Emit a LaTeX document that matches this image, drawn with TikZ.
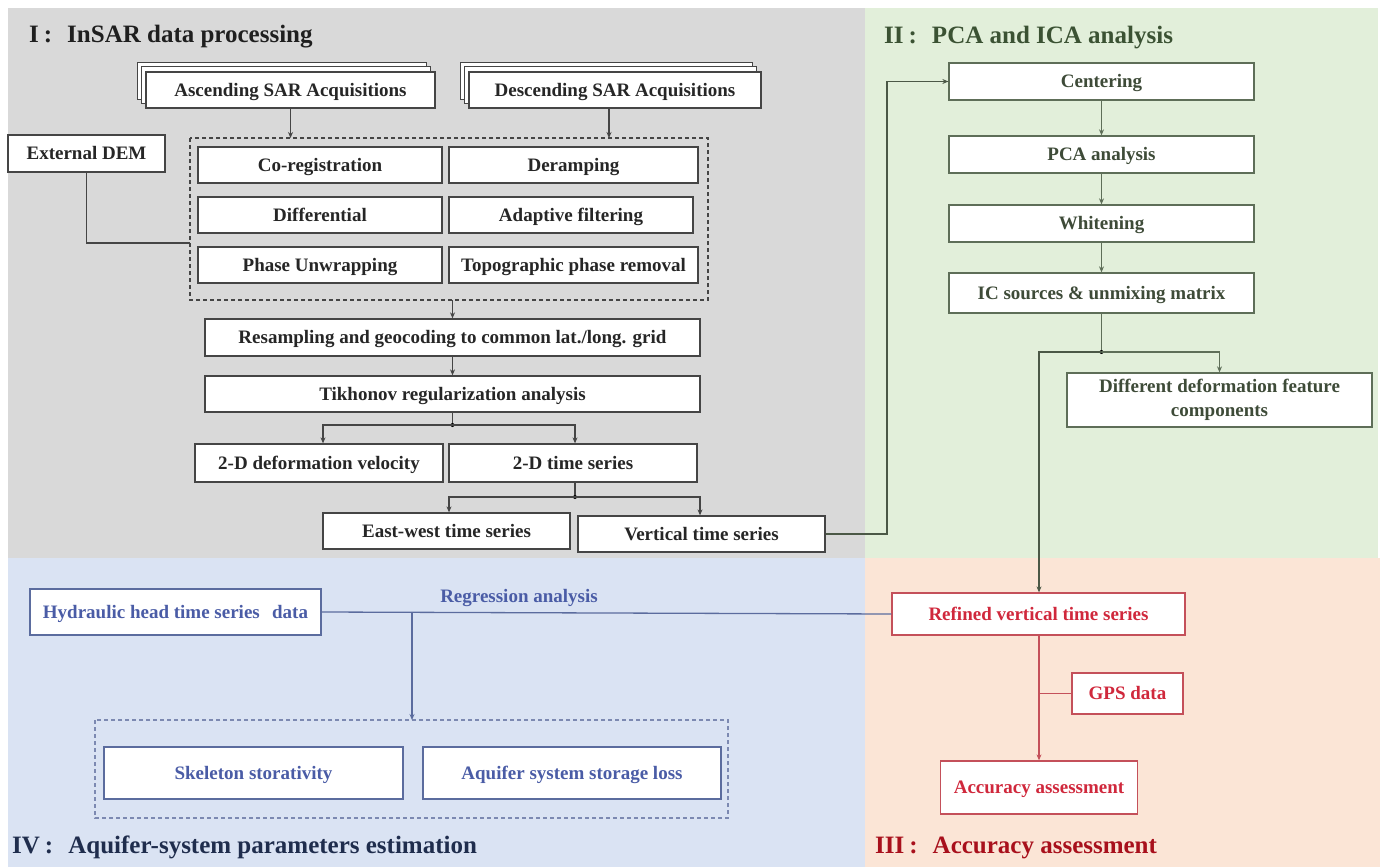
\documentclass[tikz,border=0pt]{standalone}
\usepackage{fontspec}
\setmainfont{Liberation Serif}[BoldFont={Liberation Serif Bold}]
\usetikzlibrary{arrows.meta}
\definecolor{pgray}{HTML}{D9D9D9}
\definecolor{pgreen}{HTML}{E2EFDA}
\definecolor{pblue}{HTML}{DAE3F3}
\definecolor{ppink}{HTML}{FBE5D6}
\definecolor{cI}{HTML}{262626}
\definecolor{bI}{HTML}{454545}
\definecolor{cII}{HTML}{3E4B38}
\definecolor{bII}{HTML}{5E6E58}
\definecolor{cIII}{HTML}{D0283C}
\definecolor{bIII}{HTML}{C4505A}
\definecolor{cIV}{HTML}{4A5CA6}
\definecolor{bIV}{HTML}{5B6C9E}
\definecolor{tI}{HTML}{1F1F1F}
\definecolor{tII}{HTML}{3B5233}
\definecolor{tIII}{HTML}{A8101C}
\definecolor{tIV}{HTML}{1F2D4D}
\tikzset{
  basebox/.style={draw, fill=white, line width=1.3pt, inner sep=0pt, align=center,
     text height=12.5pt, text depth=0pt,
     font=\fontsize{19}{22}\selectfont\bfseries},
  boxI/.style={basebox, draw=bI, text=cI},
  boxII/.style={basebox, draw=bII, text=cII},
  boxIII/.style={basebox, draw=bIII, text=cIII},
  boxIV/.style={basebox, draw=bIV, text=cIV},
  conn/.style={line width=1.3pt},
  arr/.style={conn, -{Stealth[length=6pt,width=5pt]}},
  dashbox/.style={line width=1.3pt, dash pattern=on 4pt off 3pt},
  sectitle/.style={anchor=west, inner sep=0pt, font=\fontsize{25}{28}\selectfont\bfseries},
  jdot/.style={circle, fill, inner sep=0pt, minimum size=4pt}
}
\newcommand{\tcolon}{\hspace{0.2em}:\hspace{0.6em}}
\begin{document}
\begin{tikzpicture}[x=1pt,y=-1pt]
\useasboundingbox (0,0) rectangle (1382,867);
\fill[white] (0,0) rectangle (1382,867);
% panels
\fill[pgray] (8,8) rectangle (865,558);
\fill[pgreen] (865,8) rectangle (1378,558);
\fill[pblue] (8,558) rectangle (865,867);
\fill[ppink] (865,558) rectangle (1380,867);

% titles
\node[sectitle, text=tI] (tI) at (29,37) {I\tcolon InSAR data processing};
\node[sectitle, text=tII] (tII) at (884,38) {II\tcolon PCA and ICA analysis};
\node[sectitle, text=tIV] (tIV) at (12,847) {IV\tcolon Aquifer-system parameters estimation};
\node[sectitle, text=tIII] (tIII) at (875,848) {III\tcolon Accuracy assessment};

% ---------- Section I ----------
% stacked acquisitions
\draw[line width=1pt, draw=bI, fill=white] (137,63) rectangle (426,99);
\draw[line width=1pt, draw=bI, fill=white] (141,67) rectangle (430,103);
\node[boxI, minimum width=289pt, minimum height=36pt] (asc) at (290.5,90) {Ascending SAR Acquisitions};
\draw[line width=1pt, draw=bI, fill=white] (460,63) rectangle (752,99);
\draw[line width=1pt, draw=bI, fill=white] (464,67) rectangle (756,103);
\node[boxI, minimum width=292pt, minimum height=36pt] (desc) at (615,90) {Descending SAR Acquisitions};

\draw[dashbox, draw=bI] (190,138) rectangle (708,300);
\coordinate (dtopA) at (290.5,138);
\coordinate (dtopD) at (609,138);
\coordinate (dbot) at (452.5,300);
\coordinate (dleft) at (190,243);

\node[boxI, minimum width=157pt, minimum height=37pt] (dem) at (86.5,153.5) {External DEM};
\node[boxI, minimum width=244pt, minimum height=36pt] (coreg) at (320,165) {Co-registration};
\node[boxI, minimum width=249pt, minimum height=36pt] (deramp) at (573.5,165) {Deramping};
\node[boxI, minimum width=244pt, minimum height=36pt] (diff) at (320,215) {Differential};
\node[boxI, minimum width=244pt, minimum height=36pt] (adapt) at (571,215) {Adaptive filtering};
\node[boxI, minimum width=244pt, minimum height=36pt] (phase) at (320,265) {Phase Unwrapping};
\node[boxI, minimum width=249pt, minimum height=36pt] (topo) at (573.5,265) {Topographic phase removal};

\node[boxI, minimum width=495pt, minimum height=37pt] (resamp) at (452.5,337.5) {Resampling and geocoding to common lat./long. grid};
\node[boxI, minimum width=495pt, minimum height=36pt] (tikh) at (452.5,394) {Tikhonov regularization analysis};
\node[boxI, minimum width=248pt, minimum height=38pt] (vel) at (319,463) {2-D deformation velocity};
\node[boxI, minimum width=248pt, minimum height=38pt] (ts2d) at (573,463) {2-D time series};
\node[boxI, minimum width=247pt, minimum height=36pt] (ew) at (446.5,531) {East-west time series};
\node[boxI, minimum width=247pt, minimum height=36pt] (vert) at (701.5,534) {Vertical time series};

\draw[arr, draw=bI] (asc.south) -- (dtopA);
\draw[arr, draw=bI] (desc.south -| dtopD) -- (dtopD);
\draw[conn, draw=bI] (dem.south) |- (dleft);
\draw[arr, draw=bI] (dbot) -- (resamp.north);
\draw[arr, draw=bI] (resamp.south) -- (tikh.north);
\coordinate (j1) at (452.5,425);
\draw[conn, draw=bI] (tikh.south) -- (j1);
\node[jdot, text=bI] (j1d) at (j1) {};
\draw[arr, draw=bI] (j1) -| (vel.north -| 323,0);
\draw[arr, draw=bI] (j1) -| (ts2d.north -| 575,0);
\coordinate (j2) at (575,497);
\draw[conn, draw=bI] (ts2d.south -| j2) -- (j2);
\node[jdot, text=bI] (j2d) at (j2) {};
\draw[arr, draw=bI] (j2) -| (ew.north -| 449,0);
\draw[arr, draw=bI] (j2) -| (vert.north -| 700,0);

% ---------- Section II ----------
\node[boxII, minimum width=305pt, minimum height=37pt] (cent) at (1101.5,81.5) {Centering};
\node[boxII, minimum width=305pt, minimum height=37pt] (pca) at (1101.5,154.5) {PCA analysis};
\node[boxII, minimum width=305pt, minimum height=37pt] (whit) at (1101.5,223.5) {Whitening};
\node[boxII, minimum width=305pt, minimum height=40pt] (ic) at (1101.5,293) {IC sources \& unmixing matrix};
\node[boxII, minimum width=305pt, minimum height=54pt, text height=, text depth=, font=\fontsize{19}{24}\selectfont\bfseries] (ddf) at (1219.5,400) {Different deformation feature\\components};

\coordinate (vtrn) at (887,534);
\draw[arr, draw=bII!80!black] (vert.east) -- (vtrn) |- (cent.west);
\draw[arr, draw=bII] (cent.south) -- (pca.north);
\draw[arr, draw=bII] (pca.south) -- (whit.north);
\draw[arr, draw=bII] (whit.south) -- (ic.north);
\coordinate (j3) at (1101.5,352);
\coordinate (j3l) at (1039,352);
\draw[conn, draw=bII] (ic.south) -- (j3);
\node[jdot, text=bII] (j3d) at (j3) {};
\draw[arr, draw=bII] (j3) -| (ddf.north);

% ---------- Section III ----------
\node[boxIII, minimum width=293pt, minimum height=42pt] (ref) at (1038.5,614) {Refined vertical time series};
\node[boxIII, minimum width=111pt, minimum height=41pt] (gps) at (1127.5,693.5) {GPS data};
\node[boxIII, minimum width=197pt, minimum height=53pt] (acc) at (1039,787.5) {Accuracy assessment};

\draw[arr, draw=bII!80!black] (j3) -- (j3l) -- (ref.north -| j3l);
\draw[arr, draw=bIII] (ref.south -| acc.north) -- (acc.north);
\draw[conn, draw=bIII] (gps.west) -- (gps.west -| acc.north);

% ---------- Section IV ----------
\node[boxIV, minimum width=291pt, minimum height=46pt] (hyd) at (175.5,612) {Hydraulic head time series\hspace{0.4em} data};
\draw[dashbox, draw=bIV!80] (95,720) rectangle (728,818);
\coordinate (dIVtop) at (412,720);
\node[boxIV, minimum width=299pt, minimum height=52pt] (skel) at (253.5,773) {Skeleton storativity};
\node[boxIV, minimum width=298pt, minimum height=52pt] (aq) at (572,773) {Aquifer system storage loss};

\draw[conn, draw=bIV] (hyd.east) -- (ref.west);
\node[font=\fontsize{19}{22}\selectfont\bfseries, text=cIV] (reg) at (519,598) {Regression analysis};
\coordinate (j4) at (412,612);
\draw[arr, draw=bIV] (j4) -- (dIVtop);
\end{tikzpicture}
\end{document}
